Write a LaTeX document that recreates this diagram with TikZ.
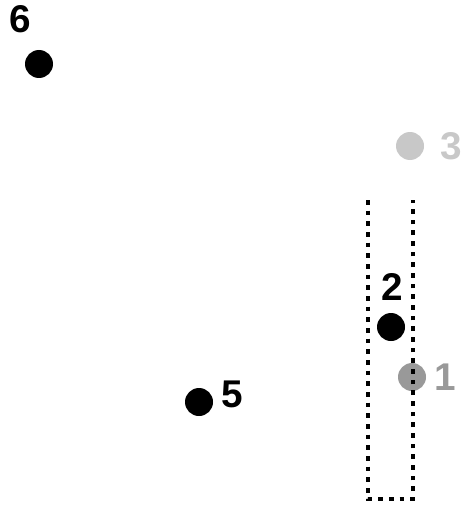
\documentclass[tikz,border=0pt]{standalone}
\usepackage{fontspec}
\setmainfont{Liberation Sans}
\usetikzlibrary{positioning}
\definecolor{midgray}  {RGB}{153,153,153}
\definecolor{lightgray}{RGB}{200,200,200}
\tikzset{
  pt/.style   ={circle, fill=#1, minimum size=21pt, inner sep=0pt},
  pt/.default=black,
  num/.style  ={font=\fontsize{29}{34}\selectfont\bfseries, text=#1, inner sep=0pt},
  num/.default=black,
  frame/.style={line width=3.6pt, dash pattern=on 3.6pt off 4.4pt},
}
\begin{document}
\begin{tikzpicture}[x=0.75pt, y=-0.75pt]
  \useasboundingbox (0,0) rectangle (467,510);
  % points and their numbers
  \node[pt] (p6) at (39,64) {};
  \node[num] (l6) at (20,19) {6};
  \node[pt=lightgray] (p3) at (410,146) {};
  \node[num=lightgray] (l3) at (451,146) {3};
  \node[pt] (p2) at (391,327) {};
  \node[num] (l2) at (392,287) {2};
  \node[pt=midgray] (p1) at (412,377) {};
  \node[num=midgray] (l1) at (445,377) {1};
  \node[pt] (p5) at (199,402) {};
  \node[num] (l5) at (232,394) {5};
  % open box
  \coordinate (tl) at (368,200);
  \coordinate (bl) at (368,499);
  \coordinate (br) at (413,499);
  \coordinate (tr) at (413,200);
  \draw[frame] (tl) -- (bl) -- (br) -- (tr);
\end{tikzpicture}
\end{document}
